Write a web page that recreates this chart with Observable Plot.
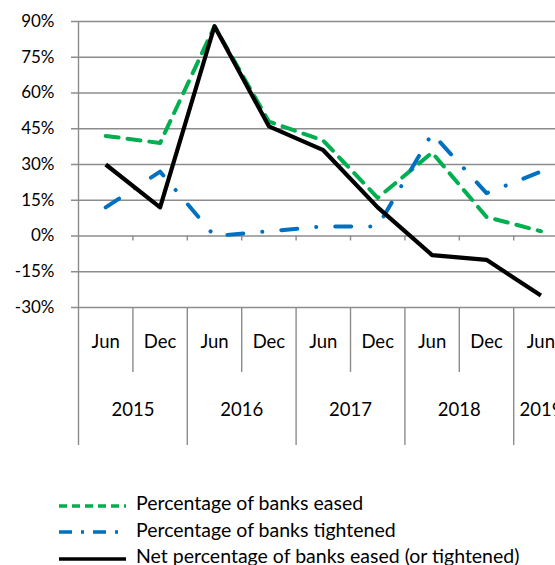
<!DOCTYPE html>
<html>
<head>
<meta charset="utf-8">
<script src="https://cdn.jsdelivr.net/npm/d3@7"></script>
<script src="https://cdn.jsdelivr.net/npm/@observablehq/plot@0.6"></script>
<style>
  html, body { margin: 0; padding: 0; background: #fff; overflow: hidden; }
  body { width: 555px; height: 565px; font-family: Lato, sans-serif; }
  #legend { margin-top: 40px; font-size: 19.5px; line-height: 26.5px; color: #000; }
  .row { display: flex; align-items: flex-start; height: 26.5px; white-space: nowrap; }
  .row svg { margin: 10.5px 10px 0 59px; flex: none; }
</style>
</head>
<body>
<div id="chart"></div>
<div id="legend"></div>
<script>
// half-year periods on the x axis
const periods = ["Jun", "Dec", "Jun", "Dec", "Jun", "Dec", "Jun", "Dec", "Jun"]
const years = ["2015", "2016", "2017", "2018", "2019"]
const yearSpans = [2, 2, 2, 2, 1]   // periods per year group
// series values (%)
const eased = [42, 39, 88, 48, 40, 16, 35, 8, 2]
const tightened = [12, 27, 0, 2, 4, 4, 43, 18, 27]
const net = [30, 12, 88, 46, 36, 12, -8, -10, -25]
const yTicks = [-30, -15, 0, 15, 30, 45, 60, 75, 90]

const series = [
  {name: "Percentage of banks eased", values: eased, stroke: "#00b050", dash: "13,9", legendDash: "8,5"},
  {name: "Percentage of banks tightened", values: tightened, stroke: "#0070c0", dash: "16,19,0.1,19", legendDash: "13,9,3,9"},
  {name: "Net percentage of banks eased (or tightened)", values: net, stroke: "#000000", dash: null, legendDash: null}
]

// year groups: start index and centre
let start = 0
const yearRows = years.map((y, k) => {
  const row = {year: y, start: start, c: start + yearSpans[k] / 2}
  start += yearSpans[k]
  return row
})
const yearBounds = yearRows.map(d => d.start).filter(d => d > 0)
const halfBounds = yearRows.filter((d, k) => yearSpans[k] > 1).map(d => d.start + 1)
const allBounds = d3.range(1, periods.length)

const grid = "#8c8c8c"

let chart = Plot.plot({
  width: 555,
  height: 450,
  marginLeft: 71,
  marginRight: 0,
  marginTop: 21,
  marginBottom: 143,
  style: {fontFamily: "Lato, sans-serif", fontSize: "18.5px", color: "#000", background: "#fff"},
  x: {domain: [0, periods.length], range: [78, 78 + 54.4 * periods.length], axis: null},
  y: {domain: [-30, 90], label: null},
  marks: [
    Plot.ruleY(yTicks, {stroke: grid, strokeWidth: 1.4}),
    Plot.axisY(yTicks, {tickFormat: d => d + "%", tickSize: 0, tickPadding: 17, label: null, fontSize: 17}),
    // vertical axis line, continuing down through the category labels
    Plot.ruleX([0], {stroke: grid, strokeWidth: 1.4, insetBottom: -138}),
    Plot.ruleX(yearBounds, {stroke: grid, strokeWidth: 1.4, insetTop: 286, insetBottom: -138}),
    Plot.ruleX(halfBounds, {stroke: grid, strokeWidth: 1.4, insetTop: 286, insetBottom: -65}),
    // tick marks on the 0% line
    Plot.ruleX(allBounds, {y1: 0, y2: -2.1, stroke: grid, strokeWidth: 1.4}),
    Plot.text(periods, {x: (d, i) => i + 0.5, text: d => d, frameAnchor: "bottom", dy: 40}),
    Plot.text(yearRows, {x: "c", text: "year", frameAnchor: "bottom", dy: 108}),
    ...series.map(s => Plot.line(s.values, {
      x: (d, i) => i + 0.5,
      y: d => d,
      stroke: s.stroke,
      strokeWidth: s.dash ? 4 : 4.2,
      strokeDasharray: s.dash,
      strokeLinecap: s.dash ? "round" : "butt",
      strokeLinejoin: "round"
    }))
  ]
})
d3.select('#chart').append(() => chart)

// legend
const rows = d3.select('#legend').selectAll('div').data(series).join('div').attr('class', 'row')
const sw = rows.append('svg').attr('width', 67).attr('height', 10)
sw.append('line')
  .attr('x1', 0).attr('x2', 67).attr('y1', 5).attr('y2', 5)
  .attr('stroke', d => d.stroke)
  .attr('stroke-width', 3.3)
  .attr('stroke-dasharray', d => d.legendDash)
rows.append('span').text(d => d.name)
</script>
</body>
</html>
